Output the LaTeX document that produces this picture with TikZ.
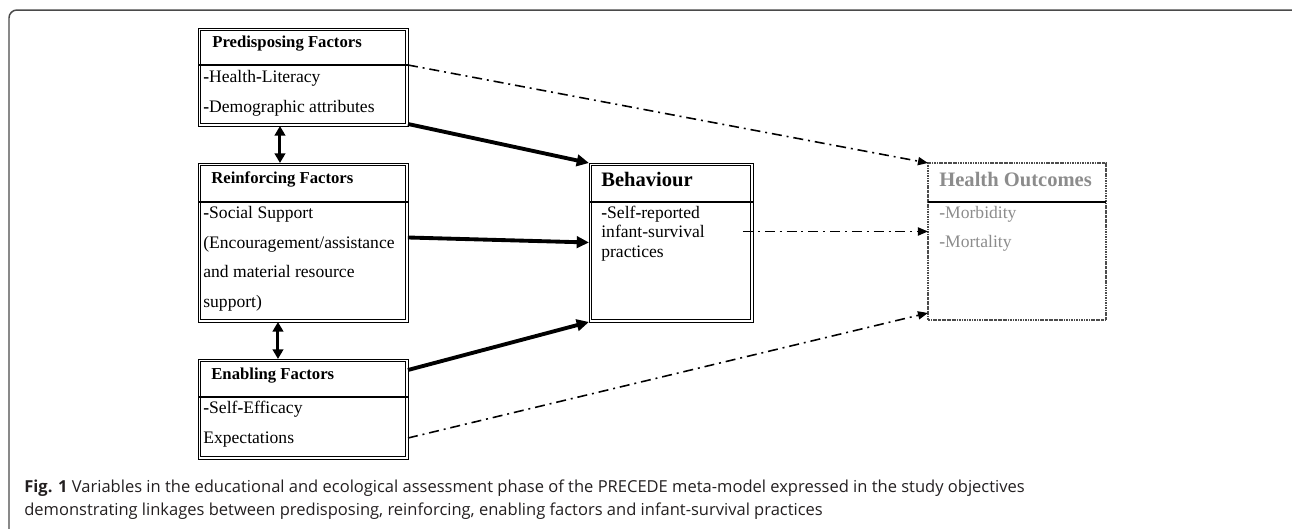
\documentclass[tikz,border=0pt]{standalone}
\usepackage{fontspec}
\setmainfont{Liberation Serif}
\newfontfamily\capfont{Open Sans}
\usetikzlibrary{arrows.meta}

\definecolor{outgray}{HTML}{8C8C8C}
\definecolor{framegray}{HTML}{4A4A4A}
\definecolor{capblack}{HTML}{231F20}

\tikzset{
	factor/.style={draw, line width=0.5pt, anchor=north west, inner sep=0pt, outer sep=0pt},
	outcome/.style={draw=black!70, line width=0.6pt, dash pattern=on 1.4pt off 0.5pt on 0.5pt off 0.5pt, anchor=north west, inner sep=0pt, outer sep=0pt},
	headtxt/.style={font=\fontsize{9.5}{11}\selectfont\bfseries, anchor=base west, inner sep=0pt},
	bighead/.style={font=\fontsize{11.7}{13}\selectfont\bfseries, anchor=base west, inner sep=0pt},
	bodytxt/.style={font=\fontsize{10}{16.8}\selectfont, align=left, anchor=north west, inner sep=0pt},
	thickarrow/.style={line width=2.2pt, -{Triangle[length=7pt,width=6.5pt]}},
	biarrow/.style={line width=1.7pt, {Triangle[length=5.5pt,width=6pt]}-{Triangle[length=5.5pt,width=6pt]}},
	dasharrow/.style={line width=0.9pt, dash pattern=on 5.7pt off 2.8pt on 1.1pt off 2.8pt, -{Triangle[length=5.7pt,width=4.6pt]}},
	captxt/.style={font=\capfont\fontsize{9.4}{12}\selectfont, text=capblack, anchor=base west, inner sep=0pt}
}

\begin{document}
\begin{tikzpicture}[x=0.02cm, y=-0.02cm]
	\useasboundingbox (0,0) rectangle (1292,528);
	\clip (0,0) rectangle (1292,528);
	\draw[framegray, line width=0.85pt, rounded corners=4.5pt] (9,10) rectangle (1320,570);

	% factor boxes
	\node[factor, minimum width=4.2cm, minimum height=1.96cm] (pre) at (198,28) {};
	\node[factor, minimum width=4.2cm, minimum height=3.18cm] (rein) at (198,163) {};
	\node[factor, minimum width=4.2cm, minimum height=2cm] (ena) at (198,359) {};
	\node[factor, minimum width=3.28cm, minimum height=3.18cm] (beh) at (589,163) {};
	\node[outcome, minimum width=3.56cm, minimum height=3.14cm] (hea) at (928,163) {};
	\foreach \b in {pre,rein,ena,beh}
		\draw[line width=0.5pt] ([shift={(1.3pt,-1.3pt)}]\b.north west) rectangle ([shift={(-1.3pt,1.3pt)}]\b.south east);

	\draw[line width=0.6pt] ([shift={(0,37)}]pre.north west) -- ([shift={(0,37)}]pre.north east) coordinate (pre-d);
	\draw[line width=0.6pt] ([shift={(0,39)}]rein.north west) -- ([shift={(0,39)}]rein.north east);
	\draw[line width=0.6pt] ([shift={(0,38)}]ena.north west) -- ([shift={(0,38)}]ena.north east);
	\draw[line width=0.6pt] ([shift={(0,39)}]beh.north west) -- ([shift={(0,39)}]beh.north east);
	\draw[line width=0.6pt] ([shift={(0,39)}]hea.north west) -- ([shift={(0,39)}]hea.north east);

	% texts
	\node[headtxt] (pre-h) at ([shift={(14,19)}]pre.north west) {Predisposing Factors};
	\node[bodytxt] (pre-b) at ([shift={(5,42)}]pre.north west) {\textbf{-}Health\textbf{-}Literacy\\\textbf{-}Demographic attributes};
	\node[headtxt] (rein-h) at ([shift={(13,20)}]rein.north west) {Reinforcing Factors};
	\node[bodytxt] (rein-b) at ([shift={(5,43)}]rein.north west) {\textbf{-}Social Support\\(Encouragement/assistance\\and material resource\\support)};
	\node[headtxt] (ena-h) at ([shift={(13,20)}]ena.north west) {Enabling Factors};
	\node[bodytxt] (ena-b) at ([shift={(5,42)}]ena.north west) {\textbf{-}Self\textbf{-}Efficacy\\Expectations};
	\node[bighead] (beh-h) at ([shift={(12,23)}]beh.north west) {Behaviour};
	\node[bodytxt, font=\fontsize{10}{10.9}\selectfont] (beh-b) at ([shift={(12,43)}]beh.north west) {\textbf{-}Self\textbf{-}reported\\infant-survival\\practices};
	\node[bighead, text=outgray] (hea-h) at ([shift={(11,23)}]hea.north west) {Health Outcomes};
	\node[bodytxt, text=outgray, font=\fontsize{10}{16.2}\selectfont] (hea-b) at ([shift={(11,43)}]hea.north west) {\textbf{-}Morbidity\\\textbf{-}Mortality};

	% links
	\draw[biarrow] ([shift={(-23,0)}]pre.south) -- ([shift={(-23,0)}]rein.north);
	\draw[biarrow] ([shift={(-25,0)}]rein.south) -- ([shift={(-25,0)}]ena.north);
	\draw[thickarrow] ([shift={(0,-2)}]pre.south east) -- (beh.north west);
	\draw[thickarrow] ([shift={(0,-5)}]rein.east) -- (beh.west);
	\draw[thickarrow] ([shift={(0,11)}]ena.north east) -- (beh.south west);
	\draw[dasharrow] (pre-d) -- (hea.north west);
	\draw[dasharrow] ([shift={(-10,-11)}]beh.east) coordinate (beh-o) -- (hea.west |- beh-o);
	\draw[dasharrow] ([shift={(0,29)}]ena.east) -- ([shift={(0,-7)}]hea.south west);

	% caption
	\node[captxt] (cap1) at (24,492) {\textbf{Fig. 1} Variables in the educational and ecological assessment phase of the PRECEDE meta-model expressed in the study objectives};
	\node[captxt] (cap2) at (24,515) {demonstrating linkages between predisposing, reinforcing, enabling factors and infant-survival practices};
\end{tikzpicture}
\end{document}
